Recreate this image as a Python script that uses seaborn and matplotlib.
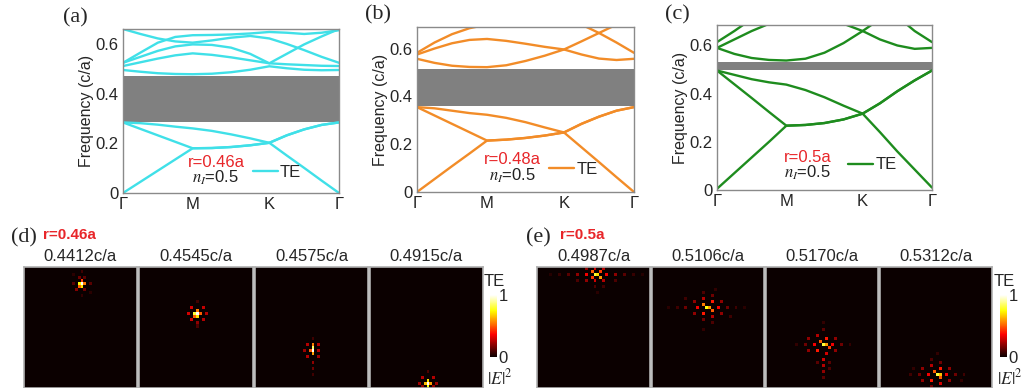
import numpy as np
import pandas as pd
import matplotlib
matplotlib.use('Agg')
import matplotlib.pyplot as plt
import seaborn as sns
from matplotlib.lines import Line2D

# ---------------- data ----------------
K_PTS = [0, 0.25, 0.5, 0.75, 1.0, 1.275, 1.55, 1.825, 2.1, 2.35, 2.6, 2.85, 3.1]
K_TICKS = [0, 1.0, 2.1, 3.1]
K_LABELS = ['Γ', 'M', 'K', 'Γ']
Y_TICKS = [0, 0.2, 0.4, 0.6]
Y_LABELS = ['0', '0.2', '0.4', '0.6']

# panel (a) r=0.46a
A_BANDS = [
    [0.0, 0.045, 0.09, 0.135, 0.18, 0.181, 0.185, 0.192, 0.202, 0.151, 0.101, 0.05, 0.0],
    [0.284, 0.258, 0.232, 0.206, 0.18, 0.181, 0.185, 0.192, 0.202, 0.232, 0.256, 0.274, 0.284],
    [0.284, 0.281, 0.275, 0.267, 0.26, 0.25, 0.236, 0.22, 0.202, 0.232, 0.256, 0.274, 0.284],
    [0.495, 0.488, 0.482, 0.479, 0.478, 0.480, 0.486, 0.496, 0.51, 0.502, 0.496, 0.494, 0.495],
    [0.511, 0.526, 0.541, 0.554, 0.562, 0.556, 0.546, 0.534, 0.522, 0.518, 0.515, 0.512, 0.511],
    [0.524, 0.548, 0.572, 0.59, 0.598, 0.596, 0.585, 0.56, 0.522, 0.56, 0.598, 0.63, 0.66],
    [0.66, 0.64, 0.622, 0.61, 0.605, 0.614, 0.625, 0.632, 0.622, 0.6, 0.575, 0.548, 0.524],
    [0.524, 0.565, 0.605, 0.628, 0.635, 0.636, 0.638, 0.642, 0.648, 0.645, 0.64, 0.645, 0.655],
]
A_GAP = (0.286, 0.471)

# panel (b) r=0.48a
B_BANDS = [
    [0.0, 0.054, 0.108, 0.161, 0.215, 0.219, 0.226, 0.236, 0.249, 0.187, 0.125, 0.062, 0.0],
    [0.355, 0.32, 0.285, 0.25, 0.215, 0.219, 0.226, 0.236, 0.249, 0.285, 0.315, 0.34, 0.355],
    [0.355, 0.35, 0.34, 0.33, 0.323, 0.31, 0.292, 0.27, 0.249, 0.285, 0.315, 0.34, 0.355],
    [0.557, 0.540, 0.528, 0.523, 0.522, 0.53, 0.548, 0.57, 0.596, 0.575, 0.558, 0.552, 0.557],
    [0.575, 0.600, 0.622, 0.636, 0.64, 0.632, 0.62, 0.607, 0.596, 0.63, 0.665, 0.70, 0.73],
    [0.75, 0.75, 0.75, 0.75, 0.75, 0.75, 0.75, 0.74, 0.72, 0.70, 0.665, 0.625, 0.582],
    [0.582, 0.625, 0.66, 0.685, 0.70, 0.72, 0.75, 0.75, 0.75, 0.75, 0.75, 0.75, 0.75],
]
B_GAP = (0.36, 0.516)

# panel (c) r=0.5a
C_BANDS = [
    [0.005, 0.07, 0.135, 0.2, 0.267, 0.27, 0.278, 0.293, 0.317, 0.24, 0.16, 0.085, 0.01],
    [0.496, 0.439, 0.382, 0.324, 0.267, 0.27, 0.278, 0.293, 0.317, 0.36, 0.41, 0.455, 0.496],
    [0.496, 0.478, 0.46, 0.447, 0.4375, 0.415, 0.385, 0.35, 0.317, 0.36, 0.41, 0.455, 0.496],
    [0.59, 0.565, 0.548, 0.54, 0.5375, 0.545, 0.57, 0.61, 0.66, 0.71, 0.75, 0.75, 0.75],
    [0.75, 0.75, 0.75, 0.75, 0.75, 0.74, 0.72, 0.69, 0.66, 0.625, 0.60, 0.586, 0.59],
    [0.75, 0.75, 0.75, 0.75, 0.75, 0.75, 0.75, 0.75, 0.75, 0.75, 0.72, 0.66, 0.614],
    [0.614, 0.66, 0.71, 0.75, 0.75, 0.75, 0.75, 0.75, 0.75, 0.75, 0.75, 0.75, 0.75],
    [0.59, 0.625, 0.66, 0.69, 0.72, 0.75, 0.75, 0.75, 0.75, 0.75, 0.75, 0.75, 0.75],
]
C_GAP = (0.497, 0.53)

D_FREQS = ['0.4412c/a', '0.4545c/a', '0.4575c/a', '0.4915c/a']
E_FREQS = ['0.4987c/a', '0.5106c/a', '0.5170c/a', '0.5312c/a']

# field-map hot spots (row, col, |E|^2) on a 40 x 38 grid
D1_SPOTS = [(5, 19, 1.0), (5, 18, 0.75), (6, 19, 0.7), (4, 19, 0.45), (5, 20, 0.55), (6, 18, 0.5),
            (3, 18, 0.15), (3, 20, 0.12), (7, 17, 0.18), (7, 20, 0.15), (5, 16, 0.12), (5, 22, 0.12),
            (1, 19, 0.08), (9, 19, 0.06), (2, 16, 0.05), (8, 22, 0.05)]
D2_SPOTS = [(15, 19, 1.0), (15, 18, 0.8), (16, 19, 0.7), (14, 19, 0.55), (16, 18, 0.5), (15, 20, 0.5),
            (13, 17, 0.3), (13, 21, 0.28), (15, 16, 0.3), (15, 22, 0.25), (17, 17, 0.3), (17, 21, 0.25),
            (19, 19, 0.1), (11, 19, 0.08), (18, 19, 0.2)]
D3_SPOTS = [(27, 19, 1.0), (26, 19, 0.85), (25, 19, 0.55), (28, 19, 0.6), (27, 18, 0.5),
            (25, 17, 0.25), (25, 21, 0.25), (27, 16, 0.22), (27, 21, 0.25), (29, 17, 0.25), (29, 21, 0.22),
            (31, 19, 0.2), (33, 19, 0.15), (35, 19, 0.08), (23, 19, 0.08)]
D4_SPOTS = [(38, 19, 1.0), (37, 19, 0.7), (39, 19, 0.75), (38, 18, 0.65), (38, 20, 0.6),
            (36, 17, 0.25), (36, 21, 0.25), (38, 16, 0.22), (38, 22, 0.22), (34, 19, 0.1), (39, 17, 0.2), (39, 21, 0.2)]
E1_SPOTS = [(2, 19, 0.8), (2, 20, 0.7), (1, 18, 0.5), (3, 21, 0.6), (1, 21, 0.45), (3, 18, 0.45),
            (2, 16, 0.35), (2, 23, 0.35), (0, 19, 0.3), (4, 19, 0.3), (4, 22, 0.25), (0, 22, 0.25),
            (2, 13, 0.2), (2, 26, 0.2), (4, 16, 0.2), (0, 16, 0.2), (2, 10, 0.12), (2, 29, 0.12),
            (4, 13, 0.1), (4, 26, 0.1), (2, 7, 0.07), (2, 32, 0.07), (6, 19, 0.1), (6, 22, 0.08),
            (8, 20, 0.05), (2, 4, 0.04), (2, 35, 0.04)]
E2_SPOTS = [(13, 18, 0.75), (13, 19, 0.6), (12, 17, 0.55), (14, 20, 0.5), (11, 20, 0.4), (15, 17, 0.4),
            (13, 15, 0.35), (13, 22, 0.35), (10, 17, 0.25), (16, 20, 0.25), (11, 14, 0.2), (15, 23, 0.2),
            (15, 14, 0.2), (11, 23, 0.2), (13, 11, 0.15), (13, 25, 0.15), (9, 20, 0.15), (17, 17, 0.15),
            (8, 17, 0.1), (18, 20, 0.1), (13, 8, 0.08), (13, 28, 0.08), (10, 11, 0.08), (16, 26, 0.08),
            (20, 17, 0.06), (7, 21, 0.06), (13, 5, 0.05), (13, 31, 0.05)]
E3_SPOTS = [(25, 19, 0.8), (25, 20, 0.6), (24, 18, 0.5), (26, 21, 0.45), (23, 20, 0.4), (27, 17, 0.4),
            (25, 16, 0.35), (25, 22, 0.35), (22, 17, 0.25), (28, 20, 0.3), (23, 14, 0.2), (27, 23, 0.2),
            (27, 14, 0.2), (23, 23, 0.2), (25, 13, 0.15), (25, 25, 0.15), (30, 19, 0.3), (32, 19, 0.25),
            (34, 19, 0.2), (36, 19, 0.12), (31, 17, 0.12), (31, 21, 0.12), (33, 21, 0.1), (20, 19, 0.12),
            (18, 19, 0.06), (25, 10, 0.06), (25, 28, 0.06)]
E4_SPOTS = [(35, 19, 0.8), (35, 20, 0.65), (34, 18, 0.5), (36, 20, 0.5), (33, 20, 0.4), (37, 17, 0.4),
            (35, 16, 0.35), (35, 22, 0.35), (32, 17, 0.25), (38, 20, 0.3), (33, 14, 0.2), (37, 23, 0.2),
            (37, 14, 0.2), (33, 23, 0.2), (35, 13, 0.15), (35, 25, 0.15), (31, 20, 0.15), (39, 17, 0.15),
            (30, 17, 0.1), (35, 10, 0.08), (35, 28, 0.08), (28, 19, 0.06), (33, 11, 0.06), (37, 27, 0.06)]
GRID_ROWS, GRID_COLS = 40, 38

# ---------------- style ----------------
sns.set_style('white')
plt.rcParams['font.family'] = ['Liberation Sans', 'DejaVu Sans']
plt.rcParams['mathtext.fontset'] = 'stix'

W, H = 1025, 388
fig = plt.figure(figsize=(W / 100, H / 100), dpi=100)


def px_rect(l, t, r, b):
    return [l / W, 1 - b / H, (r - l) / W, (b - t) / H]


RED = '#e8262a'
GRAY = '#8a8a8a'
FS = 12


def band_panel(rect, bands, gap, color, ylim, rtext, leg_xy, txt_x, txt_y):
    ax = fig.add_axes(rect)
    rows = [(i, k, f) for i, b in enumerate(bands) for k, f in zip(K_PTS, b)]
    df = pd.DataFrame(rows, columns=['band', 'k', 'f'])
    ax.axhspan(gap[0], gap[1], color='#808080', lw=0, zorder=1)
    sns.lineplot(data=df, x='k', y='f', units='band', estimator=None, color=color,
                 lw=1.7, ax=ax, legend=False, zorder=2)
    ax.set_xlim(0, 3.1)
    ax.set_ylim(*ylim)
    ax.set_xticks(K_TICKS)
    ax.set_xticklabels(K_LABELS, fontsize=FS)
    ax.set_yticks(Y_TICKS)
    ax.set_yticklabels(Y_LABELS, fontsize=FS)
    ax.set_xlabel('')
    ax.set_ylabel('Frequency (c/a)', fontsize=11.5, labelpad=1)
    ax.tick_params(length=2, color=GRAY, pad=1)
    for s in ax.spines.values():
        s.set_color(GRAY)
        s.set_linewidth(1.0)
    ax.text(txt_x, txt_y[0], rtext, color=RED, fontsize=FS, ha='center', va='center',
            transform=ax.transAxes)
    ax.text(txt_x, txt_y[1], r'$n_I$=0.5', color='#222222', fontsize=FS, ha='center',
            va='center', transform=ax.transAxes)
    ax.legend(handles=[Line2D([], [], color=color, lw=1.7, label='TE')], loc='center left',
              bbox_to_anchor=leg_xy, frameon=False, handlelength=1.5, handletextpad=0.15,
              borderpad=0, borderaxespad=0, fontsize=FS)
    return ax


band_panel(px_rect(123, 29, 339, 193), A_BANDS, A_GAP, '#40E0E8', (0, 0.66), 'r=0.46a',
           (0.60, 0.128), 0.43, (0.183, 0.09))
band_panel(px_rect(417, 27, 634, 192), B_BANDS, B_GAP, '#F28C28', (0, 0.69), 'r=0.48a',
           (0.61, 0.139), 0.44, (0.194, 0.097))
band_panel(px_rect(717, 25, 932, 190), C_BANDS, C_GAP, '#1E8C1E', (0, 0.685), 'r=0.5a',
           (0.61, 0.152), 0.42, (0.2, 0.103))

serif = ['Liberation Serif', 'DejaVu Serif']
fig.text(63 / W, 1 - 18 / H, '(a)', family=serif, fontsize=16, va='center', ha='left')
fig.text(365 / W, 1 - 15 / H, '(b)', family=serif, fontsize=16, va='center', ha='left')
fig.text(665 / W, 1 - 15 / H, '(c)', family=serif, fontsize=16, va='center', ha='left')


def spot_grid(spots):
    g = np.zeros((GRID_ROWS, GRID_COLS))
    for r, c, v in spots:
        g[r, c] = v
    return g


def field_row(xs, freqs, spot_lists, cbar_x, lab, lab_x, rtext, r_x):
    for i, ((l, r), fq, sp) in enumerate(zip(xs, freqs, spot_lists)):
        ax = fig.add_axes(px_rect(l, 267, r, 388))
        last = i == len(xs) - 1
        cax = fig.add_axes(px_rect(cbar_x, 295, cbar_x + 7, 357)) if last else None
        sns.heatmap(spot_grid(sp), cmap='hot', vmin=0, vmax=1, ax=ax, cbar=last, cbar_ax=cax,
                    xticklabels=False, yticklabels=False)
        ax.tick_params(length=0)
        for s in ax.spines.values():
            s.set_visible(True)
            s.set_color('#b0b0b0')
            s.set_linewidth(1.2)
        ax.set_title(fq, fontsize=FS, pad=4)
        if last:
            cax.set_yticks([0, 1])
            cax.set_yticklabels(['0', '1'], fontsize=FS)
            cax.tick_params(length=0, pad=1)
            for s in cax.spines.values():
                s.set_visible(False)
    fig.text((cbar_x + 4) / W, 1 - 282 / H, 'TE', fontsize=FS, ha='center', va='center')
    fig.text((cbar_x + 10) / W, 1 - 377 / H, r'$|E|^2$', fontsize=12.5, ha='center', va='center')
    fig.text(lab_x / W, 1 - 238 / H, lab, family=serif, fontsize=16, ha='left', va='center')
    fig.text(r_x / W, 1 - 235 / H, rtext, color=RED, fontsize=11, fontweight='bold',
             ha='left', va='center')


field_row([(24, 137), (139, 253), (255, 368), (370, 483)], D_FREQS,
          [D1_SPOTS, D2_SPOTS, D3_SPOTS, D4_SPOTS], 490, '(d)', 11, 'r=0.46a', 43)
field_row([(537, 650), (652, 764), (766, 878), (880, 992)], E_FREQS,
          [E1_SPOTS, E2_SPOTS, E3_SPOTS, E4_SPOTS], 1000, '(e)', 526, 'r=0.5a', 560)

fig.savefig('out.png', dpi=100, facecolor='white')
